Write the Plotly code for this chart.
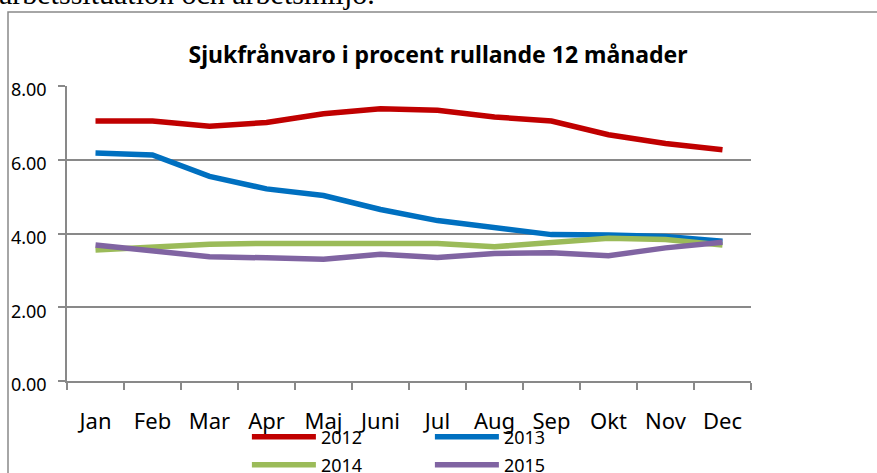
import plotly.graph_objects as go

months = ["Jan", "Feb", "Mar", "Apr", "Maj", "Juni", "Jul", "Aug", "Sep", "Okt", "Nov", "Dec"]
y2012 = [7.05, 7.05, 6.91, 7.01, 7.25, 7.38, 7.34, 7.16, 7.05, 6.68, 6.44, 6.27]
y2013 = [6.18, 6.13, 5.55, 5.21, 5.03, 4.65, 4.35, 4.16, 3.97, 3.96, 3.92, 3.79]
y2014 = [3.55, 3.62, 3.71, 3.73, 3.73, 3.73, 3.73, 3.64, 3.75, 3.87, 3.84, 3.69]
y2015 = [3.69, 3.52, 3.37, 3.34, 3.30, 3.44, 3.35, 3.46, 3.48, 3.40, 3.61, 3.76]
series = [("2012", y2012, "#C00000", "legend"),
          ("2013", y2013, "#0070C0", "legend"),
          ("2014", y2014, "#9BBB59", "legend2"),
          ("2015", y2015, "#8064A2", "legend2")]

FONT = "Noto Sans"
fig = go.Figure()
for name, vals, col, lg in series:
    fig.add_trace(go.Scatter(x=months, y=vals, name=name, mode="lines",
                             line=dict(color=col, width=5.5), legend=lg))

legend_common = dict(orientation="h", xanchor="left", yanchor="middle",
                     font=dict(family=FONT, size=18, color="#000"),
                     itemwidth=64, entrywidth=104, bgcolor="rgba(0,0,0,0)",
                     tracegroupgap=0, itemclick=False)

fig.update_layout(
    width=877, height=473,
    margin=dict(l=67, r=126, t=86, b=92, autoexpand=False),
    paper_bgcolor="white", plot_bgcolor="white",
    font=dict(family=FONT, color="#000"),
    title=dict(text="<b>Sjukfrånvaro i procent rullande 12 månader</b>",
               font=dict(family=FONT, size=23, color="#000"),
               xref="paper", x=0.5424, xanchor="center",
               yref="container", y=1 - 55 / 473, yanchor="middle"),
    legend=dict(x=0.263, y=-0.19, **legend_common),
    legend2=dict(x=0.263, y=-0.285, **legend_common),
    showlegend=True,
)
fig.update_xaxes(type="category", range=[-0.5, len(months) - 0.5],
                 showline=True, linecolor="#898989", linewidth=1.5,
                 ticks="outside", tickson="boundaries", ticklen=7, tickcolor="#898989",
                 tickwidth=1.5, showgrid=False, ticklabelstandoff=20, automargin=False,
                 tickfont=dict(family=FONT, size=22, color="#000"))
fig.update_yaxes(range=[0, 8], dtick=2, tickformat=".2f", showline=True,
                 linecolor="#898989", linewidth=1.5, ticks="outside", ticklen=7,
                 tickcolor="#898989", tickwidth=1.5, showgrid=True,
                 gridcolor="#898989", gridwidth=1.5, zeroline=False,
                 ticklabelstandoff=8, ticklabelshift=4, automargin=False,
                 tickfont=dict(family=FONT, size=18, color="#000"))

# outer chart border
fig.add_shape(type="rect", xref="paper", yref="paper",
              x0=(8 - 67) / 684, x1=(890 - 67) / 684,
              y0=(381 - 490) / 295, y1=(381 - 12) / 295,
              line=dict(color="#898989", width=1.5), fillcolor="rgba(0,0,0,0)", layer="below")
# clipped document text above the chart
fig.add_annotation(text="arbetssituation och arbetsmiljö.", xref="paper", yref="paper",
                   x=(-3 - 67) / 684, y=(381 - 12) / 295, xanchor="left", yanchor="bottom",
                   showarrow=False, font=dict(family="Liberation Serif", size=30, color="#000"))

fig.write_html("out.html", config={"displayModeBar": False},
               post_script="document.body.style.margin='0';")
